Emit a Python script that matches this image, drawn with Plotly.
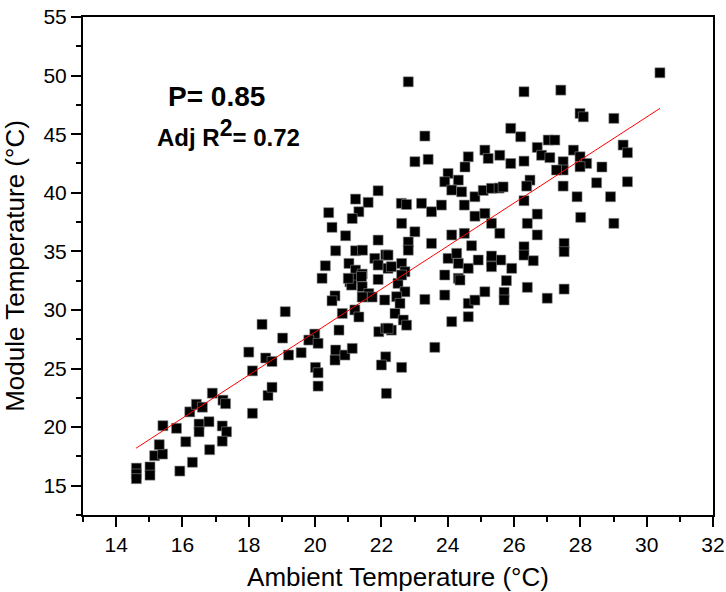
import plotly.graph_objects as go

# Ambient temperature (°C) vs module temperature (°C)
ambient = [
    14.61, 14.61, 14.61, 15.02, 15.02, 15.92, 16.30, 15.16, 15.40, 15.30,
    15.41, 15.82, 16.10, 16.82, 16.22, 16.42, 16.60, 16.50, 16.50, 16.80,
    16.90, 17.22, 17.30, 17.20, 17.33, 17.20, 18.11, 18.00, 18.11, 18.40,
    18.51, 18.70, 18.58, 18.70, 19.02, 19.10, 19.20, 19.58,
    19.99, 19.81, 20.09, 20.01, 20.09, 20.09, 20.62, 20.60, 20.90, 21.12,
    20.72, 21.92, 22.13, 22.30, 22.13, 22.00, 22.15,
    20.21, 20.31, 20.41, 20.51, 20.62, 20.92, 21.22, 21.60, 21.90, 21.32,
    21.12, 21.90, 21.22, 21.43, 22.13, 21.02, 21.80, 21.90, 21.22, 21.42,
    21.05, 21.22, 21.90, 21.42, 21.62, 21.72, 21.42, 20.60, 20.51, 22.10,
    20.82, 21.20, 21.32, 21.10, 21.40, 21.00, 22.20,
    22.20, 22.30, 22.61, 22.71, 22.50, 22.71, 22.46, 22.56, 22.41, 22.66,
    22.76, 22.61, 22.61, 22.20,
    22.81, 23.31, 23.01, 23.41, 22.60, 22.76, 23.21, 23.51, 23.81,
    22.61, 23.01, 22.81, 22.81, 23.51, 23.91, 23.31, 23.91, 23.61,
    25.12, 24.62, 24.52, 25.22, 25.57, 24.01, 23.91, 24.32, 24.12, 24.42,
    24.82, 25.07, 25.32, 25.55, 24.50, 24.82, 25.12, 25.32, 25.57,
    24.12, 24.50, 24.72, 24.01, 24.27, 24.32, 24.62, 24.32,
    24.92, 25.32, 25.60, 25.32, 25.32, 25.93, 24.37,
    24.62, 24.82, 25.12, 24.62, 24.12, 25.77, 25.70, 25.70,
    25.90, 26.20, 25.90, 26.30, 25.67, 26.48, 26.38, 26.30, 26.70, 26.40,
    26.70, 26.30, 26.30, 26.58, 26.40, 27.00, 27.51,
    26.30, 27.41, 27.99, 28.09, 26.70, 26.83, 27.08, 27.03, 27.23,
    27.79, 27.99, 28.19, 27.99, 27.48, 27.48, 27.28,
    28.65, 27.48, 27.90, 28.49, 28.01, 27.51, 27.51,
    30.40, 29.01, 29.29, 29.42, 29.42, 28.91, 29.01,
]
module = [
    16.50, 16.00, 15.60, 16.60, 15.90, 16.25, 17.00, 17.56, 17.70, 18.50,
    20.12, 19.90, 18.75, 18.07, 21.30, 21.95, 21.70, 20.26, 19.60, 20.46,
    22.90, 22.30, 22.00, 20.10, 19.60, 18.80, 21.18, 26.40, 24.80, 28.77,
    25.90, 25.60, 22.70, 23.40, 27.60, 29.85, 26.15, 26.35,
    27.94, 27.43, 27.15, 25.10, 24.64, 23.50, 26.58, 25.72, 26.15, 26.72,
    28.28, 28.14, 28.43, 28.28, 26.00, 25.30, 22.88,
    32.70, 33.77, 38.30, 37.05, 35.05, 36.33, 39.46, 39.18, 40.17, 38.38,
    37.80, 35.96, 35.05, 35.10, 34.70, 33.97, 34.40, 33.83, 33.40, 33.06,
    32.40, 32.70, 32.60, 31.98, 31.40, 31.10, 31.10, 31.20, 30.78, 30.85,
    29.70, 30.00, 29.40, 32.12, 32.85, 32.70, 33.55,
    34.68, 33.69, 33.97, 33.26, 32.27, 31.55, 31.13, 30.56, 29.70, 29.14,
    28.70, 32.98, 25.10, 28.43,
    49.47, 44.84, 42.65, 42.85, 39.10, 39.00, 39.10, 38.38, 38.95,
    37.39, 36.67, 35.80, 35.10, 35.68, 32.98, 30.90, 31.27, 26.81,
    43.64, 43.07, 42.20, 42.93, 43.20, 41.65, 40.94, 41.08, 40.23, 40.08,
    39.66, 40.20, 40.38, 40.40, 38.95, 38.00, 38.24, 37.39, 36.54,
    36.40, 36.54, 35.48, 34.40, 34.83, 33.97, 33.55, 32.70,
    34.26, 34.11, 34.26, 34.60, 33.69, 33.55, 32.55,
    30.56, 30.84, 31.55, 29.42, 29.00, 32.50, 31.50, 30.85,
    45.50, 44.78, 42.50, 42.70, 40.50, 41.08, 40.57, 39.32, 38.18, 37.39,
    36.40, 35.39, 34.68, 34.20, 31.93, 31.00, 31.78,
    48.62, 48.76, 46.77, 46.48, 43.87, 43.20, 43.00, 44.50, 44.50,
    43.64, 43.07, 42.50, 42.22, 42.65, 41.94, 41.94,
    42.20, 40.57, 39.66, 40.85, 37.90, 35.68, 34.97,
    50.24, 46.35, 44.07, 43.42, 40.94, 39.66, 37.39,
]

# Linear fit line end points
fit_x = [14.6, 30.4]
fit_y = [18.2, 47.2]

x_ticks = [14, 16, 18, 20, 22, 24, 26, 28, 30, 32]
y_ticks = [15, 20, 25, 30, 35, 40, 45, 50, 55]

FONT = "Liberation Sans, Arial, sans-serif"

fig = go.Figure()
fig.add_trace(go.Scatter(
    x=ambient, y=module, mode="markers",
    marker=dict(symbol="square", size=10, color="black",
                line=dict(width=0.6, color="#888888")),
    showlegend=False, hoverinfo="x+y",
))
fig.add_trace(go.Scatter(
    x=fit_x, y=fit_y, mode="lines",
    line=dict(color="red", width=1),
    showlegend=False, hoverinfo="skip",
))

axis_common = dict(
    showline=True, linecolor="black", linewidth=2, mirror=True,
    ticks="outside", ticklen=10, tickwidth=1.5, tickcolor="black",
    showgrid=False, zeroline=False, automargin=False,
    tickfont=dict(family=FONT, size=21, color="black"),
)

fig.update_xaxes(
    range=[13, 32], tickvals=x_ticks, ticktext=[str(v) for v in x_ticks],
    minor=dict(ticks="outside", ticklen=5, tickwidth=1.5, tickcolor="black", dtick=1, tick0=13),
    title=dict(text="Ambient Temperature (°C)", font=dict(family=FONT, size=26, color="black")),
    **axis_common,
)
fig.update_yaxes(
    range=[12.5, 55], tickvals=y_ticks, ticktext=[str(v) for v in y_ticks],
    minor=dict(ticks="outside", ticklen=5, tickwidth=1.5, tickcolor="black", dtick=2.5, tick0=12.5),
    title=dict(text="Module Temperature (°C)", font=dict(family=FONT, size=26, color="black")),
    **axis_common,
)

fig.add_annotation(
    xref="paper", yref="paper", x=0.132, y=0.84, xanchor="left", yanchor="middle",
    text="<b>P= 0.85</b>", showarrow=False,
    font=dict(family=FONT, size=28, color="black"),
)
fig.add_annotation(
    xref="paper", yref="paper", x=0.114, y=0.767, xanchor="left", yanchor="middle",
    text="<b>Adj R<sup><span style='font-size:23px'>2</span></sup>= 0.72</b>", showarrow=False,
    font=dict(family=FONT, size=24, color="black"),
)

fig.update_layout(
    width=726, height=592,
    margin=dict(l=83, r=13, t=17, b=77, autoexpand=False),
    paper_bgcolor="white", plot_bgcolor="white",
    font=dict(family=FONT, color="black"),
)

fig.write_html("out.html")
